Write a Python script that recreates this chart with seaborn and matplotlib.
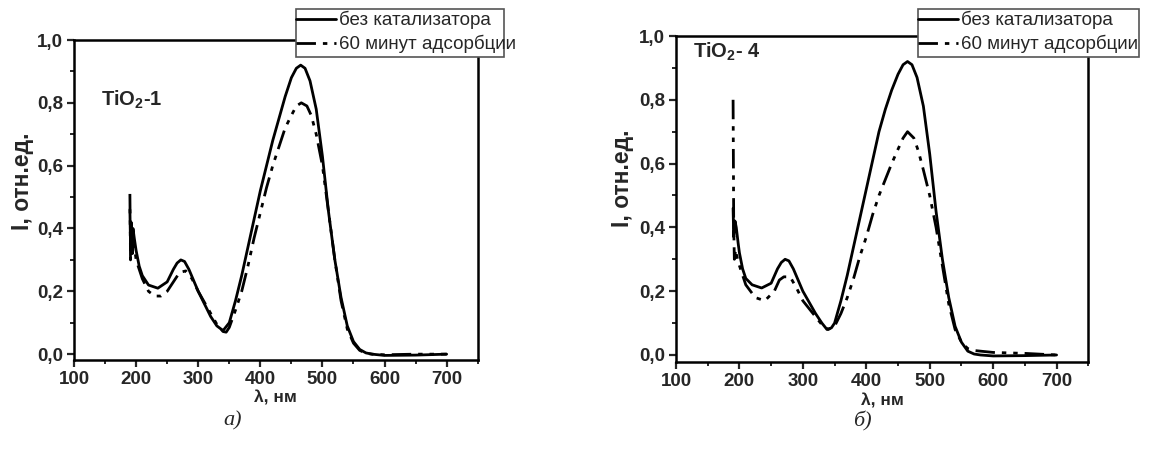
import numpy as np
import pandas as pd
import matplotlib
matplotlib.use("Agg")
import matplotlib.pyplot as plt
import matplotlib.patches as mpatches
import seaborn as sns
from matplotlib.ticker import MultipleLocator, FuncFormatter

# ---------------- data ----------------
wl_a_solid = [190, 191, 192, 193, 195, 197, 200, 205, 210, 220, 235, 250, 260, 266, 272, 278, 285, 300,
              310, 320, 330, 340, 350, 360, 370, 380, 390, 400, 410, 420, 430, 440, 450, 458, 465, 472,
              480, 490, 500, 510, 520, 530, 540, 550, 560, 570, 580, 600, 650, 700]
I_a_solid = [0.46, 0.35, 0.42, 0.33, 0.40, 0.37, 0.33, 0.28, 0.25, 0.22, 0.21, 0.23, 0.27, 0.29, 0.30, 0.295, 0.27, 0.20,
             0.16, 0.12, 0.09, 0.075, 0.10, 0.17, 0.25, 0.34, 0.43, 0.52, 0.60, 0.68, 0.75, 0.82, 0.88, 0.91, 0.92, 0.91,
             0.87, 0.78, 0.63, 0.45, 0.30, 0.18, 0.09, 0.04, 0.015, 0.004, 0.0, -0.004, -0.003, 0.0]

wl_a_dash = [190, 191, 192, 194, 196, 200, 205, 210, 220, 230, 240, 250, 260, 270, 280, 290, 300,
             310, 320, 330, 340, 345, 350, 360, 370, 380, 390, 400, 410, 420, 430, 440, 450, 458, 466, 475,
             482, 490, 500, 510, 520, 530, 540, 550, 560, 570, 580, 600, 650, 700]
I_a_dash = [0.51, 0.30, 0.38, 0.32, 0.36, 0.30, 0.27, 0.24, 0.20, 0.185, 0.185, 0.20, 0.23, 0.26, 0.265, 0.24, 0.20,
            0.165, 0.13, 0.095, 0.072, 0.07, 0.085, 0.14, 0.20, 0.28, 0.37, 0.45, 0.53, 0.60, 0.66, 0.72, 0.76, 0.79, 0.80, 0.79,
            0.76, 0.70, 0.60, 0.45, 0.30, 0.17, 0.08, 0.035, 0.012, 0.003, 0.0, -0.002, 0.0, 0.0]

wl_b_solid = [190, 191, 193, 195, 198, 200, 205, 210, 220, 235, 250, 260, 266, 272, 278, 285, 300,
              310, 320, 330, 338, 345, 350, 360, 370, 380, 390, 400, 410, 420, 430, 440, 450, 458, 465, 472,
              480, 490, 500, 510, 520, 530, 540, 550, 560, 570, 580, 600, 650, 700]
I_b_solid = [0.46, 0.37, 0.42, 0.40, 0.35, 0.32, 0.27, 0.24, 0.22, 0.21, 0.225, 0.27, 0.29, 0.30, 0.295, 0.27, 0.20,
             0.165, 0.13, 0.10, 0.08, 0.085, 0.10, 0.17, 0.25, 0.34, 0.43, 0.52, 0.61, 0.70, 0.77, 0.83, 0.88, 0.91, 0.92, 0.91,
             0.87, 0.78, 0.63, 0.45, 0.30, 0.18, 0.09, 0.04, 0.012, 0.003, 0.0, -0.003, -0.002, 0.0]

wl_b_dash = [190, 191, 192, 194, 197, 200, 205, 210, 225, 240, 255, 263, 270, 280, 290, 300,
             310, 320, 330, 340, 350, 360, 370, 380, 390, 400, 410, 420, 430, 440, 450, 458, 465, 475,
             482, 490, 500, 510, 520, 530, 540, 550, 560, 570, 580, 600, 650, 700]
I_b_dash = [0.80, 0.40, 0.30, 0.33, 0.30, 0.28, 0.25, 0.22, 0.18, 0.17, 0.20, 0.235, 0.245, 0.245, 0.21, 0.17,
            0.145, 0.12, 0.095, 0.08, 0.09, 0.13, 0.18, 0.24, 0.31, 0.37, 0.44, 0.50, 0.55, 0.60, 0.645, 0.68, 0.70, 0.68,
            0.64, 0.58, 0.50, 0.40, 0.28, 0.16, 0.08, 0.04, 0.02, 0.014, 0.012, 0.008, 0.005, 0.0]

series_labels = ["без катализатора", "60 минут адсорбции"]
panel_labels = ["TiO$_2$-1", "TiO$_2$- 4"]
panel_captions = ["а)", "б)"]
xticks = [100, 200, 300, 400, 500, 600, 700]
yticks = [0.0, 0.2, 0.4, 0.6, 0.8, 1.0]

# ---------------- style ----------------
sns.set_style("ticks")
plt.rcParams['font.family'] = ['Liberation Sans', 'DejaVu Sans']
plt.rcParams['mathtext.fontset'] = 'custom'
plt.rcParams['mathtext.rm'] = 'Liberation Sans:bold'
plt.rcParams['mathtext.it'] = 'Liberation Sans:bold'
plt.rcParams['mathtext.bf'] = 'Liberation Sans:bold'

fig = plt.figure(figsize=(11.51, 4.59), dpi=100)
W, H = 1151, 459
ax_a = fig.add_axes([74 / W, 1 - 359.5 / H, (477.7 - 74) / W, (359.5 - 40) / H])
ax_b = fig.add_axes([676 / W, 1 - 362 / H, (1088.3 - 676) / W, (362 - 36) / H])

dashdot = (0, (7, 2.5, 1.6, 2.5, 1.6, 2.5))

# (axes, data..., ymin, label, label pos px, legend box px (x0, x1, y0, y1), ylabel center px)
panels = [
    (ax_a, wl_a_solid, I_a_solid, wl_a_dash, I_a_dash, -0.017, panel_labels[0], (101, 100),
     (296, 504, 9, 57), (22, 181), 398),
    (ax_b, wl_b_solid, I_b_solid, wl_b_dash, I_b_dash, -0.022, panel_labels[1], (693, 52),
     (918, 1139, 9, 57), (623, 178), 401),
]

for ax, xs, ys, xd, yd, ymin, plab, (tx, ty), (bx0, bx1, by0, by1), (ylx, yly), xly in panels:
    df_s = pd.DataFrame({"wl": xs, "I": ys})
    df_d = pd.DataFrame({"wl": xd, "I": yd})
    sns.lineplot(data=df_s, x="wl", y="I", ax=ax, color="black", lw=2.0,
                 estimator=None, sort=False, label=series_labels[0])
    sns.lineplot(data=df_d, x="wl", y="I", ax=ax, color="black", lw=2.0,
                 estimator=None, sort=False, label=series_labels[1], linestyle=dashdot)
    ax.set_xlim(100, 750)
    ax.set_ylim(ymin, 1.0)
    ax.set_xticks(xticks)
    ax.set_yticks(yticks)
    ax.xaxis.set_minor_locator(MultipleLocator(50))
    ax.yaxis.set_minor_locator(MultipleLocator(0.1))
    ax.yaxis.set_major_formatter(FuncFormatter(lambda v, p: f"{v:.1f}".replace(".", ",")))
    ax.tick_params(which="major", direction="out", length=5, width=1.6, labelsize=13.5, pad=3)
    ax.tick_params(which="minor", direction="out", length=3, width=1.4)
    ax.tick_params(top=False, right=False, which="both")
    for lbl in ax.get_xticklabels() + ax.get_yticklabels():
        lbl.set_fontweight("bold")
    for sp in ax.spines.values():
        sp.set_visible(True)
        sp.set_linewidth(1.8)
        sp.set_color("black")

    pos = ax.get_position()
    ax_left = pos.x0 * W
    ax_bot = (1 - pos.y0) * H
    ax_w = pos.width * W
    ax_h = pos.height * H

    ax.set_xlabel("λ, нм", fontsize=12.5, fontweight="bold")
    ax.xaxis.set_label_coords(0.5, -(xly - ax_bot) / ax_h)
    ax.xaxis.label.set_va("center")
    ax.set_ylabel("I, отн.ед.", fontsize=16.5, fontweight="bold")
    ax.yaxis.set_label_coords((ylx - ax_left) / ax_w, (ax_bot - yly) / ax_h)
    ax.yaxis.label.set_va("center")

    fig.text(tx / W, 1 - ty / H, plab, fontsize=14.5, fontweight="bold", va="center", ha="left")

    rect = mpatches.Rectangle((bx0 / W, 1 - by1 / H), (bx1 - bx0) / W, (by1 - by0) / H,
                              transform=fig.transFigure, facecolor="white", edgecolor="#555555",
                              lw=1.2, clip_on=False, zorder=4.5)
    ax.add_patch(rect)
    leg = ax.legend(loc="upper left", bbox_to_anchor=(bx0 / W, 1 - (by0 + 2) / H),
                    bbox_transform=fig.transFigure, frameon=False,
                    prop={"family": ["Liberation Sans"], "size": 13.5},
                    handlelength=2.15, handletextpad=0.15, borderpad=0.0,
                    borderaxespad=0, labelspacing=0.3)
    leg.set_zorder(6)

fig.text(233 / W, 1 - 421 / H, panel_captions[0], fontsize=16, fontstyle="italic",
         family=["Liberation Serif"], ha="center", va="center")
fig.text(862 / W, 1 - 421 / H, panel_captions[1], fontsize=16, fontstyle="italic",
         family=["Liberation Serif"], ha="center", va="center")

fig.savefig("out.png", dpi=100, facecolor="white")
